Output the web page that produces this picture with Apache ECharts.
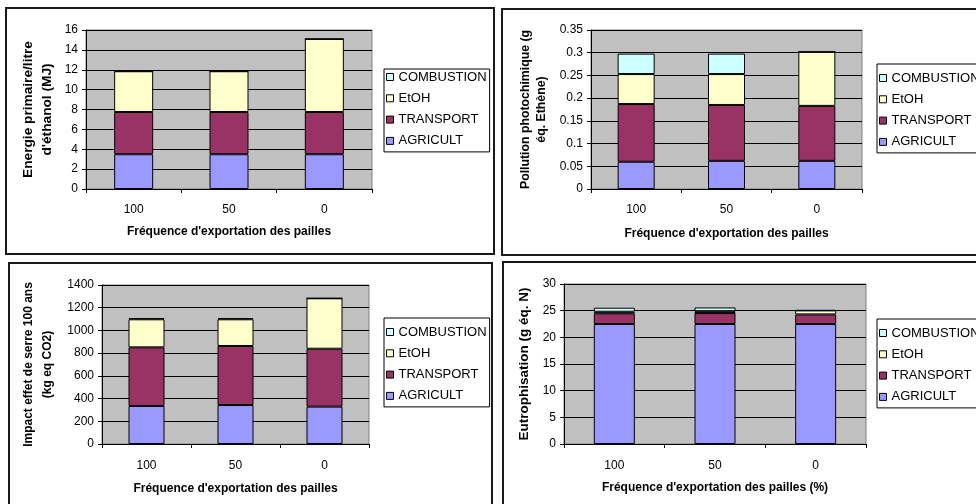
<!DOCTYPE html>
<html>
<head>
<meta charset="utf-8">
<script src="https://cdn.jsdelivr.net/npm/echarts@6/dist/echarts.min.js"></script>
<style>
  html, body { margin: 0; padding: 0; background: #fff; }
  #chart { width: 976px; height: 504px; }
</style>
</head>
<body>
<div id="chart"></div>
<script>
// Straw export frequency (%) on the x axis of every panel
const categories = ['100', '50', '0'];
const stageNames = ['AGRICULT', 'TRANSPORT', 'EtOH', 'COMBUSTION'];
const legendOrder = ['COMBUSTION', 'EtOH', 'TRANSPORT', 'AGRICULT'];

// Primary energy per litre of ethanol (MJ)
const energyAgricult = [3.5, 3.5, 3.5];
const energyTransport = [4.25, 4.25, 4.25];
const energyEtOH = [4.1, 4.1, 7.35];
const energyCombustion = [0, 0, 0];

// Photochemical pollution (g eq. ethene)
const photoAgricult = [0.060, 0.062, 0.062];
const photoTransport = [0.127, 0.123, 0.121];
const photoEtOH = [0.066, 0.068, 0.119];
const photoCombustion = [0.045, 0.045, 0];

// Greenhouse impact over 100 years (kg eq CO2)
const ghgAgricult = [335, 343, 329];
const ghgTransport = [516, 520, 510];
const ghgEtOH = [247, 235, 444];
const ghgCombustion = [10, 10, 0];

// Eutrophication (g eq. N)
const eutroAgricult = [22.5, 22.5, 22.5];
const eutroTransport = [2.0, 2.05, 1.8];
const eutroEtOH = [0.3, 0.35, 0.75];
const eutroCombustion = [0.75, 0.7, 0];

const stageColors = {
  AGRICULT: '#9999FF',
  TRANSPORT: '#993366',
  EtOH: '#FFFFCC',
  COMBUSTION: '#CCFFFF'
};

const FONT = '"Liberation Sans", Arial, sans-serif';

const panels = [
  {
    values: [energyAgricult, energyTransport, energyEtOH, energyCombustion],
    grid: { left: 86, top: 30, width: 286, height: 159 },
    y: { max: 16, interval: 2 },
    yName: 'Energie primaire/litre\nd\'éthanol (MJ)', yNameGap: 29.5, yNameSize: 13.7, yNameLine: 19,
    xName: 'Fréquence d\'exportation des pailles', xNameGap: 37, labelMargin: 15,
    barWidth: 39,
    legend: { left: 384, top: 69, padding: [1, 3, 4, 2] }
  },
  {
    values: [photoAgricult, photoTransport, photoEtOH, photoCombustion],
    grid: { left: 591, top: 30, width: 271, height: 159 },
    y: { max: 0.35, interval: 0.05 },
    yName: 'Pollution photochimique (g\néq. Ethène)', yNameGap: 41, yNameSize: 12.3, yNameLine: 16,
    xName: 'Fréquence d\'exportation des pailles', xNameGap: 39, labelMargin: 15,
    barWidth: 37,
    legend: { left: 877, top: 64, padding: [7, 3, 4, 2] }
  },
  {
    values: [ghgAgricult, ghgTransport, ghgEtOH, ghgCombustion],
    grid: { left: 102, top: 285, width: 267, height: 159 },
    y: { max: 1400, interval: 200 },
    yName: 'Impact effet de serre 100 ans\n(kg eq CO2)', yNameGap: 44.5, yNameSize: 12, yNameLine: 19,
    xName: 'Fréquence d\'exportation des pailles', xNameGap: 39, labelMargin: 16,
    barWidth: 36,
    legend: { left: 384, top: 318, padding: [7, 3, 4, 2] }
  },
  {
    values: [eutroAgricult, eutroTransport, eutroEtOH, eutroCombustion],
    grid: { left: 564, top: 284, width: 302, height: 160 },
    y: { max: 30, interval: 5 },
    yName: 'Eutrophisation (g éq. N)', yNameGap: 30, yNameSize: 13.5, yNameLine: 19,
    xName: 'Fréquence d\'exportation des pailles (%)', xNameGap: 38, labelMargin: 16,
    barWidth: 41,
    legend: { left: 877, top: 319, padding: [7, 3, 4, 2] }
  }
];

const grids = [], xAxes = [], yAxes = [], series = [], legends = [];

panels.forEach((p, i) => {
  grids.push(Object.assign({
    show: true,
    backgroundColor: '#C0C0C0',
    borderColor: '#808080',
    borderWidth: 1,
    containLabel: false
  }, p.grid));

  xAxes.push({
    type: 'category',
    gridIndex: i,
    data: categories,
    axisLine: { lineStyle: { color: '#000', width: 1 } },
    axisTick: { show: true, alignWithLabel: false, length: 4, lineStyle: { color: '#000' } },
    axisLabel: { color: '#000', fontFamily: FONT, fontSize: 12, margin: p.labelMargin },
    name: p.xName,
    nameLocation: 'middle',
    nameGap: p.xNameGap,
    nameTextStyle: { color: '#000', fontFamily: FONT, fontSize: 12, fontWeight: 'bold' },
    splitLine: { show: false }
  });

  yAxes.push({
    type: 'value',
    gridIndex: i,
    min: 0,
    max: p.y.max,
    interval: p.y.interval,
    axisLine: { show: true, lineStyle: { color: '#000', width: 1 } },
    axisTick: { show: true, length: 4, lineStyle: { color: '#000' } },
    axisLabel: {
      color: '#000', fontFamily: FONT, fontSize: 12, margin: 8,
      formatter: v => String(+v.toFixed(2))
    },
    splitLine: { show: true, lineStyle: { color: '#000', width: 1 } },
    name: p.yName,
    nameLocation: 'middle',
    nameRotate: 90,
    nameGap: p.yNameGap,
    nameTextStyle: {
      color: '#000', fontFamily: FONT, fontSize: p.yNameSize,
      fontWeight: 'bold', lineHeight: p.yNameLine
    }
  });

  stageNames.forEach((name, k) => {
    series.push({
      type: 'bar',
      name: name,
      xAxisIndex: i,
      yAxisIndex: i,
      stack: 'panel' + i,
      barWidth: p.barWidth,
      data: p.values[k],
      itemStyle: { color: stageColors[name], borderColor: '#000', borderWidth: 1 },
      emphasis: { disabled: true },
      animation: false
    });
  });

  legends.push({
    show: true,
    orient: 'vertical',
    left: p.legend.left,
    top: p.legend.top,
    padding: p.legend.padding,
    backgroundColor: '#fff',
    borderColor: '#000',
    borderWidth: 1,
    borderRadius: 0,
    itemWidth: 7,
    itemHeight: 7,
    itemGap: 7.3,
    itemStyle: { borderColor: '#000', borderWidth: 1 },
    icon: 'rect',
    selectedMode: false,
    data: legendOrder,
    textStyle: { color: '#000', fontFamily: FONT, fontSize: 13, lineHeight: 14 }
  });
});

// Frames around each of the four panels
const frame = (x, y, w, h) => ({
  type: 'rect',
  shape: { x: x, y: y, width: w, height: h },
  style: { fill: null, stroke: '#1a1a1a', lineWidth: 2 },
  silent: true,
  z: -10
});

const chart = echarts.init(document.getElementById('chart'), null, { renderer: 'canvas' });
chart.setOption({
  backgroundColor: '#fff',
  animation: false,
  textStyle: { fontFamily: FONT },
  grid: grids,
  xAxis: xAxes,
  yAxis: yAxes,
  series: series,
  legend: legends,
  graphic: [
    frame(6, 8, 488, 246),
    frame(502, 9, 500, 246),
    frame(9, 263, 483, 260),
    frame(503, 262, 500, 260)
  ]
});
</script>
</body>
</html>
